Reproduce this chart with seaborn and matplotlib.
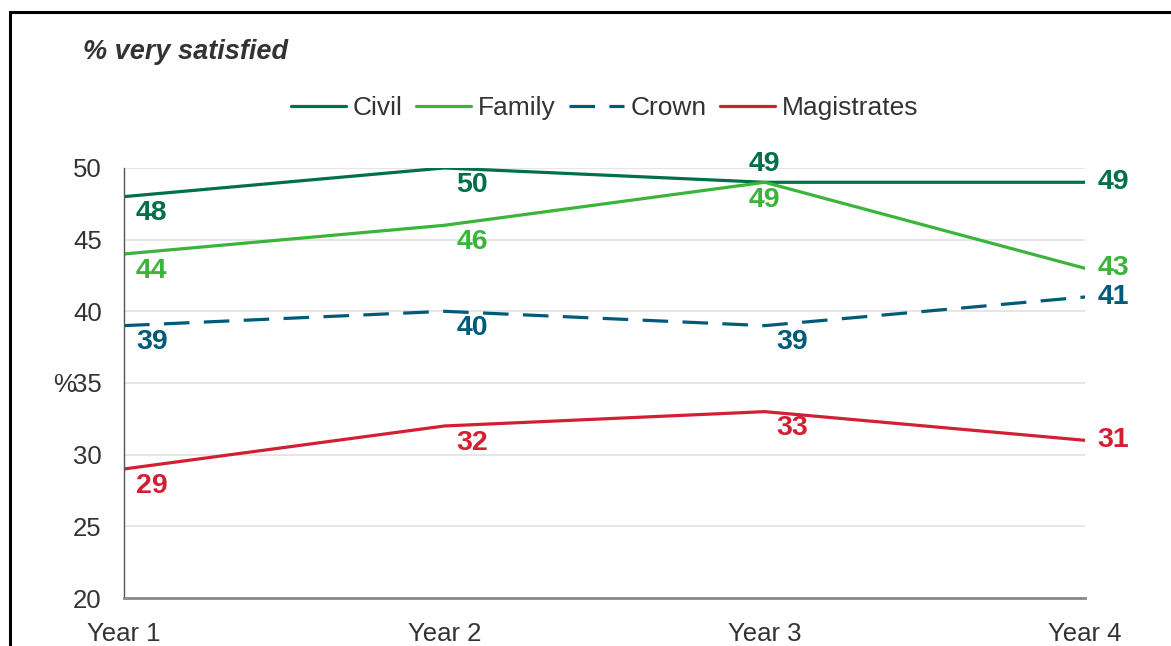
import pandas as pd
import seaborn as sns
import matplotlib.pyplot as plt
from matplotlib.patches import Rectangle

# values
years = ['Year 1', 'Year 2', 'Year 3', 'Year 4']
civil = [48, 50, 49, 49]
family = [44, 46, 49, 43]
crown = [39, 40, 39, 41]
magistrates = [29, 32, 33, 31]

series = ['Civil', 'Family', 'Crown', 'Magistrates']
colours = {'Civil': '#00704A', 'Family': '#3AB53A',
           'Crown': '#005A7A', 'Magistrates': '#D21F33'}
dash_map = {'Civil': '', 'Family': '', 'Crown': (8, 4.5), 'Magistrates': ''}

# where each value label sits relative to its point
label_pos = {
    'Civil': ['below', 'below', 'above', 'right'],
    'Family': ['below', 'below', 'under', 'right'],
    'Crown': ['below', 'below', 'below', 'right'],
    'Magistrates': ['below', 'below', 'below', 'right'],
}

df = pd.DataFrame({
    'x': list(range(len(years))) * 4,
    'value': civil + family + crown + magistrates,
    'group': [s for s in series for _ in years],
})

sns.set_theme(style='white')
plt.rcParams['font.family'] = ['Liberation Sans', 'DejaVu Sans']
text_col = '#333333'

fig = plt.figure(figsize=(11.71, 6.46), dpi=100)
ax = fig.add_axes([0.1059, 0.0743, 0.8207, 0.6657])

sns.lineplot(data=df, x='x', y='value', hue='group', style='group',
             palette=colours, dashes=dash_map, hue_order=series,
             style_order=series, linewidth=2.3, legend=False, ax=ax)

ax.set_xlim(0, 3)
ax.set_ylim(20, 50)
ax.set_xticks(range(len(years)))
ax.set_xticklabels(years)
ax.set_yticks(range(20, 51, 5))
ax.yaxis.grid(True, color='#e4e4e4', linewidth=1.3)
ax.xaxis.grid(False)
ax.tick_params(axis='x', labelsize=18.5, labelcolor=text_col, pad=17, length=0)
ax.tick_params(axis='y', labelsize=18.5, labelcolor=text_col, pad=16, length=0)
ax.set_xlabel('')
ax.set_ylabel('')
for side in ['top', 'right']:
    ax.spines[side].set_visible(False)
ax.spines['left'].set_color('#555555')
ax.spines['left'].set_linewidth(1.0)
ax.spines['bottom'].set_color('#8a8a8a')
ax.spines['bottom'].set_linewidth(2.0)

# value labels
offsets = {'below': (20, -12), 'above': (0, 13), 'under': (0, -13), 'right': (9, 0)}
for name, vals in zip(series, [civil, family, crown, magistrates]):
    for i, v in enumerate(vals):
        pos = label_pos[name][i]
        dx, dy = offsets[pos]
        ha = 'left' if pos == 'right' else 'center'
        ax.annotate(str(v), (i, v), xytext=(dx, dy), textcoords='offset points',
                    ha=ha, va='center', fontsize=20.5, fontweight='bold',
                    color=colours[name], annotation_clip=False)

ax.legend(handles=ax.lines[:4], labels=series, loc='center',
          bbox_to_anchor=(0.5, 1.0 + 60 / 430), ncol=4, frameon=False,
          fontsize=19, handlelength=2.1, handletextpad=0.25,
          columnspacing=0.5, labelcolor=text_col)

fig.text(83 / 1171, 1 - 52 / 646, '% very satisfied', fontsize=19.5,
         fontweight='bold', fontstyle='italic', color=text_col,
         ha='left', va='center')
ax.text(65 / 1171, 1 - 385 / 646, '%', transform=fig.transFigure,
        fontsize=18.5, color=text_col, ha='center', va='center')

# outer frame, cut off at right and bottom like the reference
fig.add_artist(Rectangle((10 / 1171, -0.05), 1.2, 1 - 12 / 646 + 0.05,
                         transform=fig.transFigure, fill=False,
                         edgecolor='black', linewidth=2.2, clip_on=False))

fig.savefig('out.png', dpi=100)
